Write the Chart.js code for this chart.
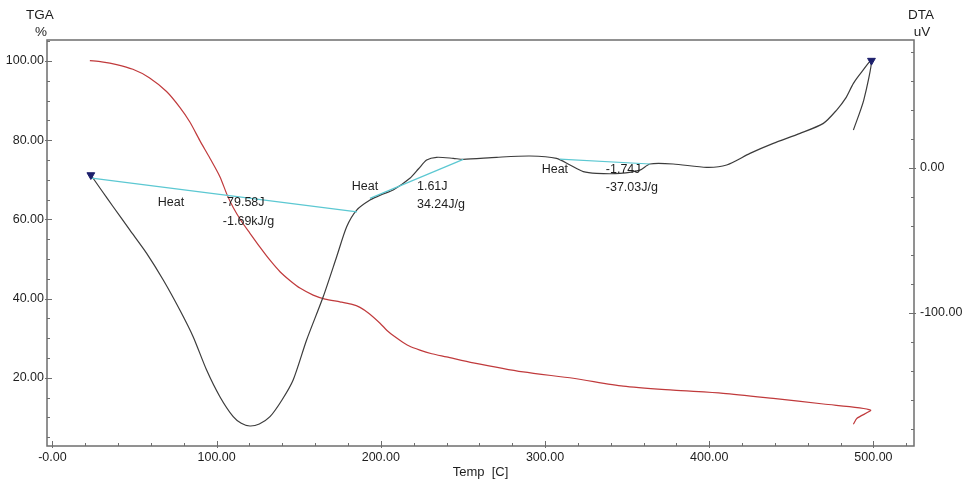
<!DOCTYPE html>
<html>
<head>
<meta charset="utf-8">
<script src="https://cdn.jsdelivr.net/npm/chart.js@4.4.0/dist/chart.umd.min.js"></script>
<style>
  html, body { margin: 0; padding: 0; background: #fff; }
  canvas { display: block; }
</style>
</head>
<body>
<canvas id="chart" width="972" height="485"></canvas>
<script>
// ── Data ────────────────────────────────────────────────────────────────────
const tgaTemp = [22.8, 30, 39.1, 49, 59, 69.5, 77.6, 83.7, 89.8, 96, 102, 106.4, 110.1, 115, 120.3, 126.4,
                 132.5, 138.6, 144.6, 151, 158.8, 166, 175.1, 182, 187.3, 193, 199.5, 205, 211.6, 217,
                 223.8, 231, 240, 256.3, 286.7, 317.2, 347.6, 378, 408.5, 439, 469.5,
                 498.2, 490, 487.8];
const tgaVal  = [100.1, 99.8, 99.1, 97.9, 95.8, 92.3, 88.3, 84.6, 79.9, 75.4, 70.8, 66.2, 63, 59.6, 56.5, 53,
                 49.7, 46.8, 44.6, 42.6, 40.9, 39.9, 39.2, 38.6, 37.8, 36.2, 33.8, 31.5, 29.5, 28.1,
                 27, 26.1, 25.3, 23.8, 21.5, 19.9, 17.9, 16.9, 16.1, 14.8, 13.4,
                 11.9, 9.8, 8.3];

const dtaTemp = [23.4, 30, 37, 47.2, 57.4, 67.5, 77.6, 85.7, 93.9, 102, 110.1, 115, 120.3, 126, 132.5, 139.8, 146.6,
                 154.8, 164.9, 173.1, 179.2, 185.3, 193.4, 200, 207.5, 217.7, 223, 227.9, 234, 244.1, 250.2,
                 270.5, 290.8, 307, 315.2, 323.3, 331.4, 345.6, 357.8, 363.9, 378, 398.4, 410.6,
                 424.8, 439, 455.3, 469.5, 477.6, 483, 487.8, 493, 498.8, 494.1, 487.8];
const dtaVal  = [-4.8, -15.5, -26.7, -42.8, -58.8, -77.2, -97.9, -116.3, -139.3, -157.7, -171.5, -176, -177.9, -176.5, -171.5, -160, -146.2,
                 -118.6, -88.8, -61.2, -40.5, -29, -22.1, -18.5, -15.2, -7.1, -0.5, 5.5, 7.4, 6.7, 6.0,
                 7.4, 8.3, 6.7, 2.1, -2.5, -3.7, -3.7, -1.4, 2.8, 2.8, 0.5, 2.1,
                 10.1, 17, 23.9, 30.8, 40, 48, 58.4, 66.5, 74.1, 46.9, 26.2];

// baselines of the three integrated peaks: [startTemp, startDta, endTemp, endDta]
const baseline1 = [24, -6.9, 185.5, -30.3];
const baseline2 = [193.4, -20.9, 250.2, 6.0];
const baseline3 = [309, 6.2, 364, 2.8];

const markerTemp = [23.4, 498.8];
const markerDta  = [-4.8, 74.1];

// peak labels: [temp, dta, text, align]
const peakLabels = [
  [72.2, -24.1, "Heat", "center"],
  [103.8, -24.1, "-79.58J", "left"],
  [103.8, -36.6, "-1.69kJ/g", "left"],
  [190.3, -13.1, "Heat", "center"],
  [222, -13.1, "1.61J", "left"],
  [222, -25.5, "34.24J/g", "left"],
  [306, -0.7, "Heat", "center"],
  [337, -0.7, "-1.74J", "left"],
  [337, -13.8, "-37.03J/g", "left"],
];

const xTicks   = [0, 100, 200, 300, 400, 500];
const tgaTicks = [20, 40, 60, 80, 100];
const dtaTicks = [-100, 0];

// ── Helpers ────────────────────────────────────────────────────────────────
const FONT = "'Liberation Sans', Arial, sans-serif";
const toPoints = (xs, ys) => xs.map((x, i) => ({ x, y: ys[i] }));
const segment  = (b) => [{ x: b[0], y: b[1] }, { x: b[2], y: b[3] }];
const fixTicks = (values) => (scale) => { scale.ticks = values.map((v) => ({ value: v })); };

const frameColor = "#6e6e6e";

const framePlugin = {
  id: "frame",
  afterDatasetsDraw(chart) {
    const { ctx, chartArea: a, scales } = chart;
    ctx.save();
    // peak labels
    ctx.fillStyle = "#1e1e1e";
    ctx.font = `12.5px ${FONT}`;
    ctx.textBaseline = "middle";
    peakLabels.forEach(([t, v, txt, align]) => {
      ctx.textAlign = align;
      ctx.fillText(txt, scales.x.getPixelForValue(t), scales.y2.getPixelForValue(v));
    });

    // frame
    ctx.strokeStyle = frameColor;
    ctx.lineWidth = 1.5;
    ctx.strokeRect(a.left, a.top, a.right - a.left, a.bottom - a.top);

    // ticks (inside the frame)
    ctx.lineWidth = 1;
    ctx.beginPath();
    for (let t = 0; t <= 520; t += 20) {
      const px = Math.round(scales.x.getPixelForValue(t)) + 0.5;
      const len = t % 100 === 0 ? 5 : 3;
      ctx.moveTo(px, a.bottom + (len === 5 ? 2 : 0));
      ctx.lineTo(px, a.bottom - len);
    }
    for (let v = 5; v <= 105; v += 5) {
      const py = Math.round(scales.y.getPixelForValue(v)) + 0.5;
      const major = v % 20 === 0;
      ctx.moveTo(a.left - (major ? 2 : 0), py);
      ctx.lineTo(a.left + (major ? 5 : 3), py);
    }
    for (let v = -180; v <= 80; v += 20) {
      const py = Math.round(scales.y2.getPixelForValue(v)) + 0.5;
      const major = v % 100 === 0;
      ctx.moveTo(a.right + (major ? 2 : 0), py);
      ctx.lineTo(a.right - (major ? 5 : 3), py);
    }
    ctx.stroke();

    // axis titles
    ctx.fillStyle = "#1e1e1e";
    ctx.textAlign = "center";
    ctx.font = `13.5px ${FONT}`;
    ctx.fillText("TGA", 40, 15);
    ctx.fillText("%", 41, 32);
    ctx.fillText("DTA", 921, 15);
    ctx.fillText("uV", 922, 32);
    ctx.restore();
  },
};

const lineStyle = { showLine: true, pointRadius: 0, borderWidth: 1.2, tension: 0.25, fill: false };

new Chart(document.getElementById("chart"), {
  type: "scatter",
  data: {
    datasets: [
      {
        label: "markers",
        data: toPoints(markerTemp, markerDta),
        yAxisID: "y2",
        showLine: false,
        pointStyle: "triangle",
        rotation: 180,
        pointRadius: 4.5,
        backgroundColor: "#1c1f6b",
        borderColor: "#1c1f6b",
        borderWidth: 1,
      },
      { ...lineStyle, label: "base1", data: segment(baseline1), yAxisID: "y2", borderColor: "#5cc8d2", tension: 0 },
      { ...lineStyle, label: "base2", data: segment(baseline2), yAxisID: "y2", borderColor: "#5cc8d2", tension: 0 },
      { ...lineStyle, label: "base3", data: segment(baseline3), yAxisID: "y2", borderColor: "#5cc8d2", tension: 0 },
      { ...lineStyle, label: "DTA", data: toPoints(dtaTemp, dtaVal), yAxisID: "y2", borderColor: "#3c3c3c" },
      { ...lineStyle, label: "TGA", data: toPoints(tgaTemp, tgaVal), yAxisID: "y", borderColor: "#c03a3c" },
    ],
  },
  options: {
    responsive: false,
    animation: false,
    devicePixelRatio: 1,
    layout: { padding: { top: 40, left: 0, right: 0, bottom: 0 } },
    plugins: { legend: { display: false }, tooltip: { enabled: false } },
    scales: {
      x: {
        type: "linear",
        position: "bottom",
        min: -3.3,
        max: 524.7,
        afterBuildTicks: fixTicks(xTicks),
        afterFit: (s) => { s.height = 39; },
        grid: { display: false, drawTicks: false },
        border: { display: false },
        ticks: {
          padding: 4,
          color: "#1e1e1e",
          font: { family: FONT, size: 12.5 },
          maxRotation: 0,
          callback: (v) => (v === 0 ? "-0.00" : Number(v).toFixed(2)),
        },
        title: {
          display: true,
          text: "Temp  [C]",
          color: "#1e1e1e",
          font: { family: FONT, size: 13 },
          padding: { top: 0, bottom: 5 },
        },
      },
      y: {
        type: "linear",
        position: "left",
        min: 2.8,
        max: 105.3,
        afterBuildTicks: fixTicks(tgaTicks),
        afterFit: (s) => { s.width = 47; },
        grid: { display: false, drawTicks: false },
        border: { display: false },
        ticks: {
          padding: 3,
          color: "#1e1e1e",
          font: { family: FONT, size: 12.5 },
          callback: (v) => Number(v).toFixed(2),
        },
      },
      y2: {
        type: "linear",
        position: "right",
        min: -191.7,
        max: 88.3,
        afterBuildTicks: fixTicks(dtaTicks),
        afterFit: (s) => { s.width = 58; },
        grid: { display: false, drawTicks: false },
        border: { display: false },
        ticks: {
          padding: 6,
          color: "#1e1e1e",
          font: { family: FONT, size: 12.5 },
          callback: (v) => Number(v).toFixed(2),
        },
      },
    },
  },
  plugins: [framePlugin],
});
</script>
</body>
</html>
